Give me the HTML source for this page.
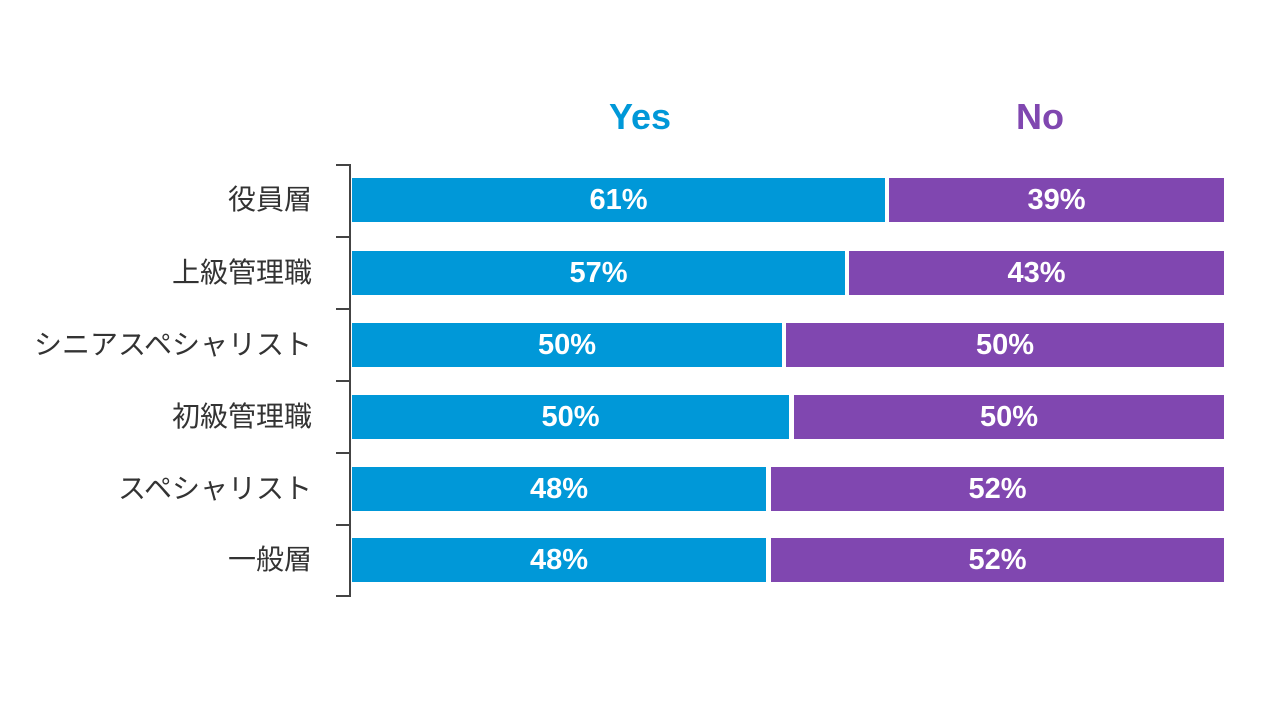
<!DOCTYPE html>
<html><head><meta charset="utf-8"><style>
body{margin:0;width:1280px;height:720px;background:#fff;position:relative;overflow:hidden;font-family:"Liberation Sans","Noto Sans CJK JP",sans-serif}
.h{position:absolute;top:96px;font-size:36px;font-weight:bold;transform:translateX(-50%)}
.b{position:absolute;height:44px;color:#fff;font-weight:bold;font-size:29px;display:flex;align-items:center;justify-content:center}
.y{background:#0098d8}.n{background:#8047b0}
.l{position:absolute;right:968px;font-size:28px;color:#333;height:44px;line-height:44px;white-space:nowrap}
.t{position:absolute;left:336px;width:14px;height:2px;background:#444}
</style></head><body>
<div class="h" style="left:640px;color:#0098d8">Yes</div>
<div class="h" style="left:1040px;color:#8047b0">No</div>
<div style="position:absolute;left:349px;top:164px;width:2px;height:433px;background:#444"></div>
<div class="t" style="top:164px"></div><div class="t" style="top:236px"></div><div class="t" style="top:308px"></div><div class="t" style="top:380px"></div><div class="t" style="top:452px"></div><div class="t" style="top:524px"></div><div class="t" style="top:595px"></div>

<div class="l" style="top:178px">役員層</div>
<div class="b y" style="left:352px;width:533px;top:178px">61%</div>
<div class="b n" style="left:889px;width:335px;top:178px">39%</div>

<div class="l" style="top:251px">上級管理職</div>
<div class="b y" style="left:352px;width:493px;top:251px">57%</div>
<div class="b n" style="left:849px;width:375px;top:251px">43%</div>

<div class="l" style="top:323px">シニアスペシャリスト</div>
<div class="b y" style="left:352px;width:430px;top:323px">50%</div>
<div class="b n" style="left:786px;width:438px;top:323px">50%</div>

<div class="l" style="top:395px">初級管理職</div>
<div class="b y" style="left:352px;width:437px;top:395px">50%</div>
<div class="b n" style="left:794px;width:430px;top:395px">50%</div>

<div class="l" style="top:467px">スペシャリスト</div>
<div class="b y" style="left:352px;width:414px;top:467px">48%</div>
<div class="b n" style="left:771px;width:453px;top:467px">52%</div>

<div class="l" style="top:538px">一般層</div>
<div class="b y" style="left:352px;width:414px;top:538px">48%</div>
<div class="b n" style="left:771px;width:453px;top:538px">52%</div>
</body></html>
